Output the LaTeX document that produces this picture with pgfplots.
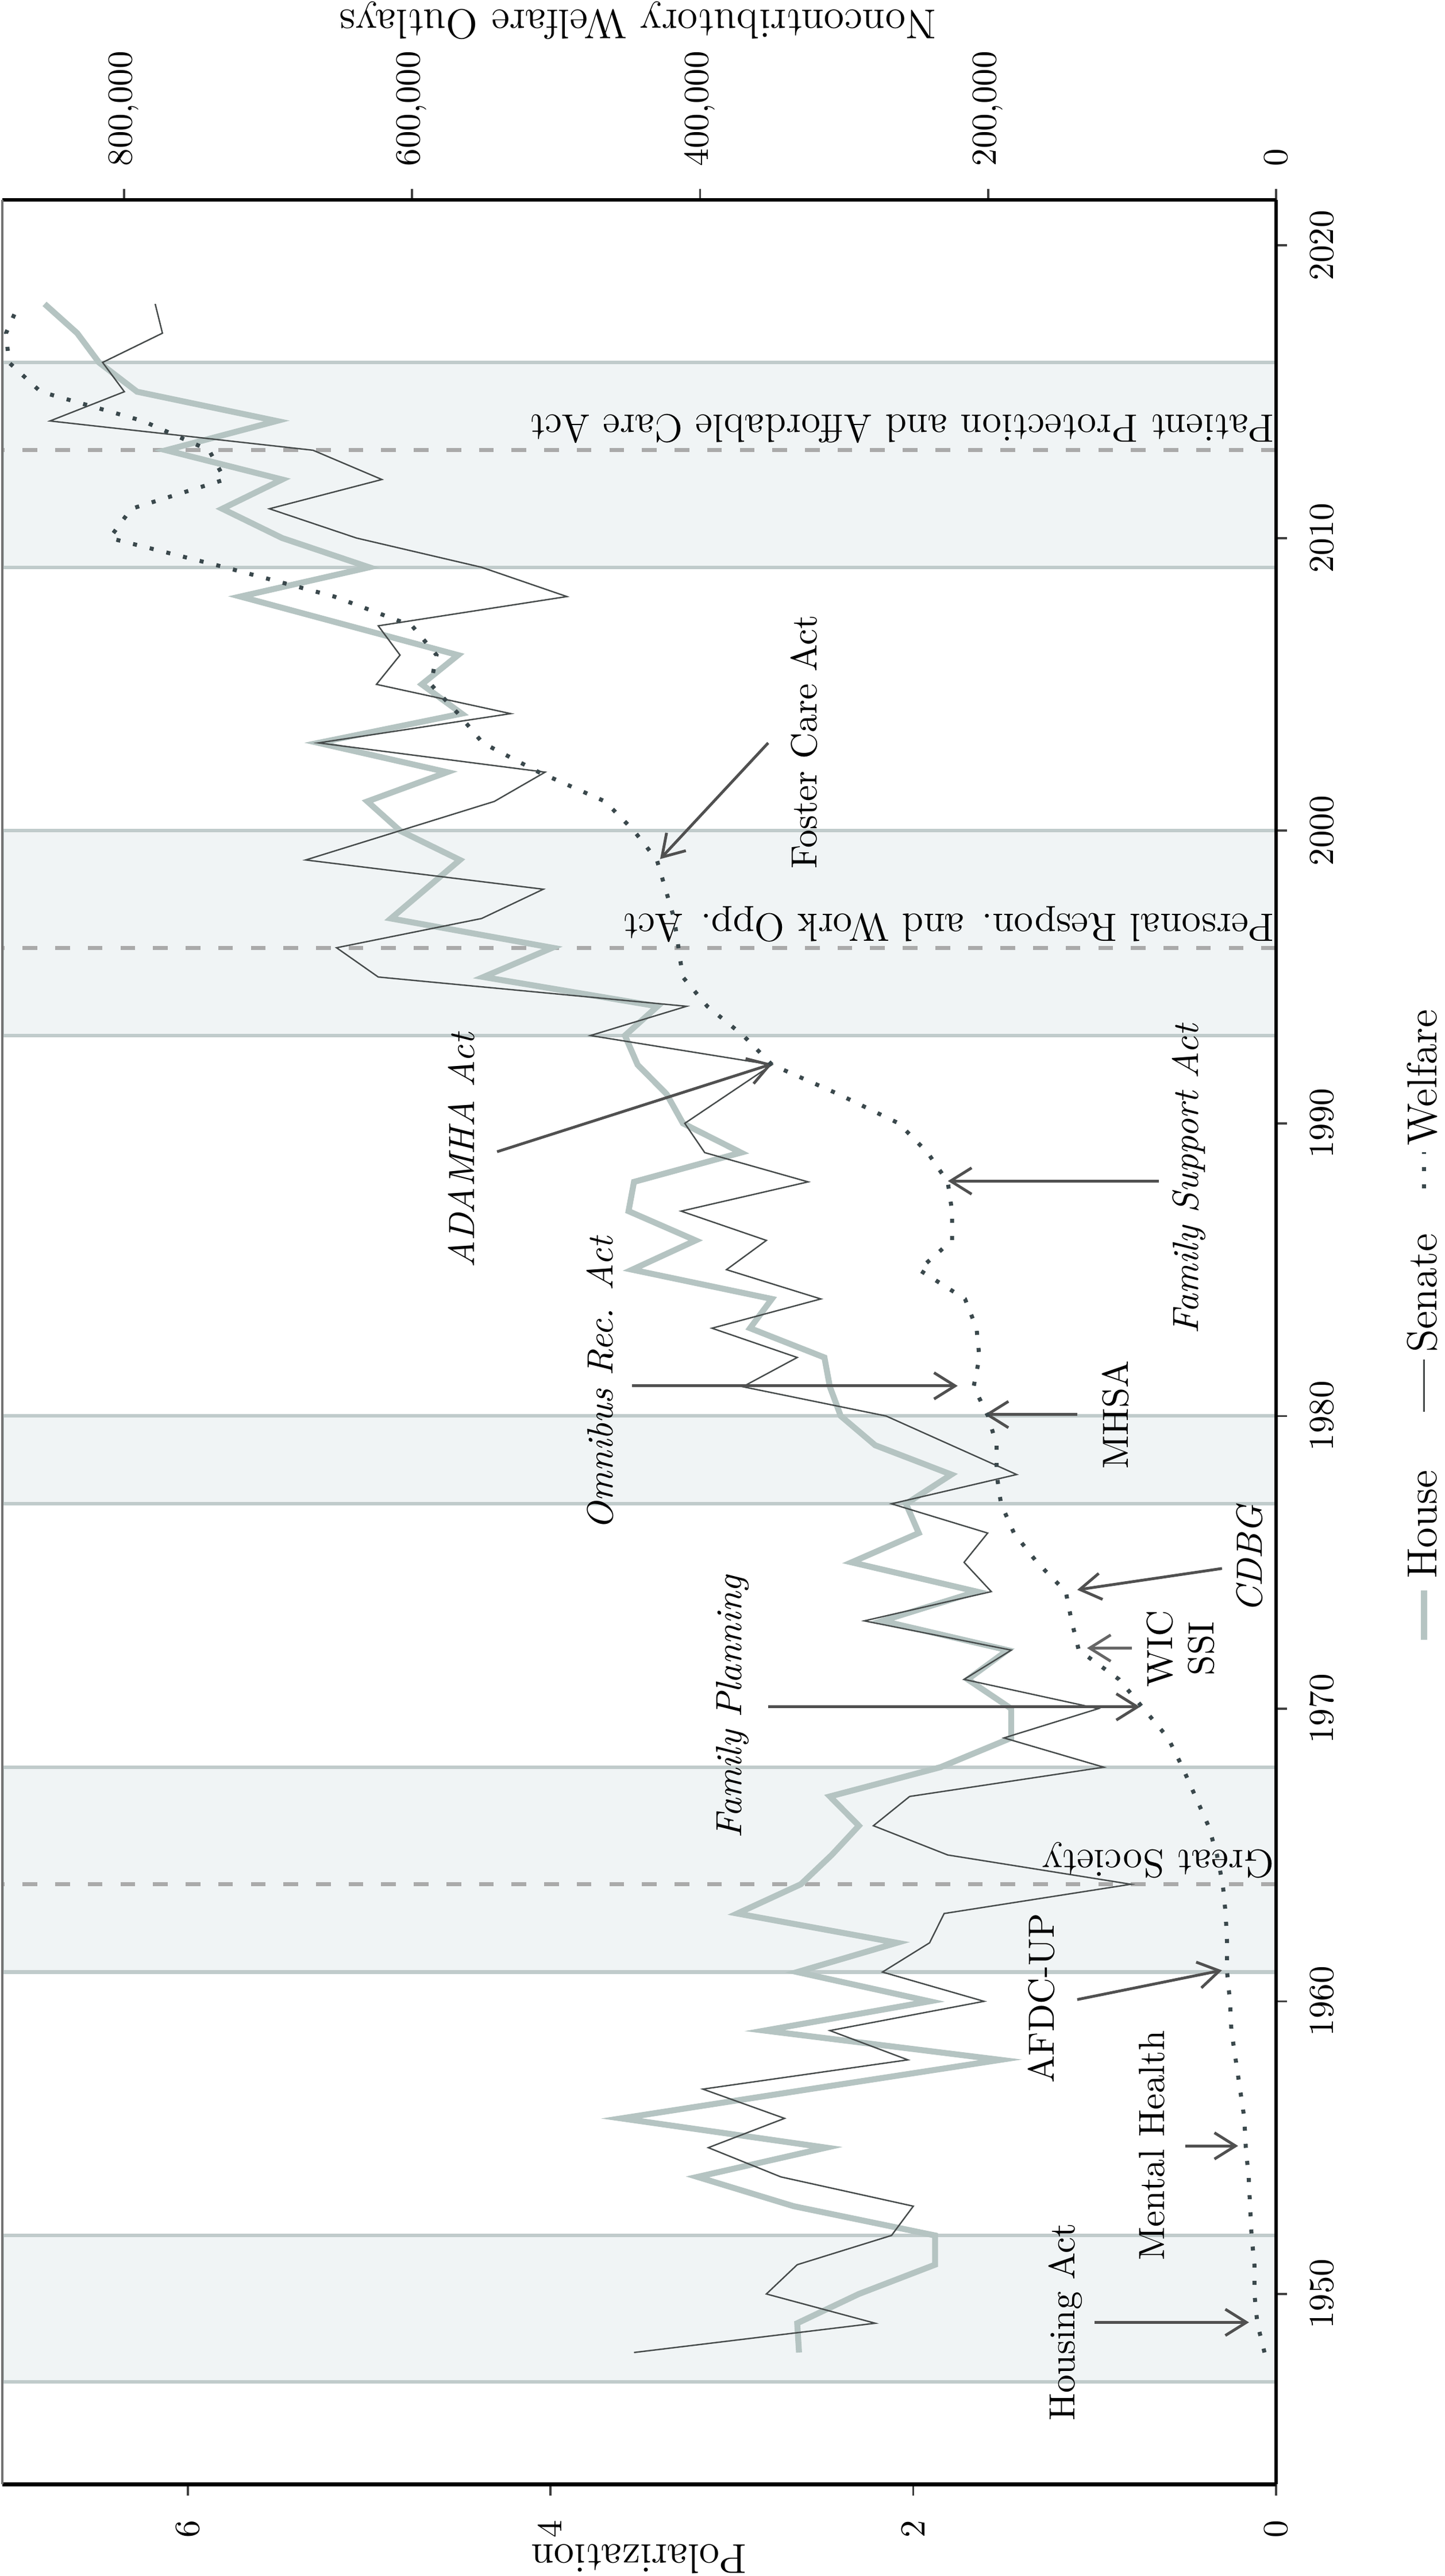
\documentclass[border=0pt]{standalone}
\usepackage{fontspec}
\usepackage{pgfplots}
\usepackage{pgfplotstable}
\pgfplotsset{compat=1.18}
\usetikzlibrary{arrows.meta}
\definecolor{bandfill}{RGB}{240,244,245}
\definecolor{bandedge}{RGB}{192,203,203}
\definecolor{dashc}{RGB}{170,170,170}
\definecolor{housec}{RGB}{181,196,194}
\definecolor{senatec}{RGB}{70,75,75}
\definecolor{welfc}{RGB}{58,72,76}
\definecolor{arrc}{RGB}{80,80,80}
\newcommand{\annf}{\fontsize{10.4}{11.8}\selectfont}
\newcommand{\annv}{\fontsize{11.3}{13.5}\selectfont}
\newcommand{\tickf}{\fontsize{10}{12}\selectfont}
\newcommand{\legf}{\fontsize{12}{14}\selectfont}

\pgfplotstableread{
year house senate
1948 2.63 3.54
1949 2.64 2.21
1950 2.30 2.81
1951 1.88 2.64
1952 1.88 2.12
1953 2.66 2.00
1954 3.19 2.73
1955 2.48 3.13
1956 3.61 2.71
1957 2.57 3.16
1958 1.52 2.03
1959 2.82 2.46
1960 1.91 1.61
1961 2.64 2.17
1962 2.09 1.91
1963 2.97 1.83
1964 2.62 0.80
1965 2.45 1.81
1966 2.30 2.22
1967 2.46 2.02
1968 1.85 0.95
1969 1.46 1.50
1970 1.46 0.98
1971 1.70 1.72
1972 1.48 1.46
1973 2.17 2.27
1974 1.65 1.57
1975 2.34 1.72
1976 1.97 1.59
1977 2.04 2.12
1978 1.79 1.43
1979 2.21 1.79
1980 2.40 2.15
1981 2.46 2.94
1982 2.49 2.64
1983 2.90 3.11
1984 2.78 2.51
1985 3.55 3.03
1986 3.20 2.81
1987 3.57 3.28
1988 3.54 2.58
1989 2.95 3.15
1990 3.27 3.26
1991 3.36 3.02
1992 3.52 2.78
1993 3.59 3.78
1994 3.41 3.25
1995 4.37 4.95
1996 3.99 5.18
1997 4.88 4.38
1998 4.69 4.04
1999 4.50 5.35
2000 4.83 4.83
2001 5.01 4.31
2002 4.57 4.03
2003 5.28 5.28
2004 4.49 4.22
2005 4.71 4.96
2006 4.51 4.83
2007 5.11 4.95
2008 5.71 3.91
2009 5.00 4.38
2010 5.48 5.07
2011 5.81 5.55
2012 5.48 4.93
2013 6.12 5.31
2014 5.51 6.76
2015 6.28 6.35
2016 6.49 6.47
2017 6.61 6.14
2018 6.79 6.18
}\polar

\pgfplotstableread{
year welfare
1948 8000
1949 13000
1950 15000
1951 15000
1952 17000
1953 18000
1954 19000
1955 21000
1956 22000
1957 25000
1958 28000
1959 31000
1960 32000
1961 34000
1962 34000
1963 35000
1964 37000
1965 41000
1966 47000
1967 56000
1968 65000
1969 75000
1970 92000
1971 109000
1972 137000
1973 142000
1974 146000
1975 166000
1976 182000
1977 191000
1978 194000
1979 194000
1980 200000
1981 210000
1982 206000
1983 208000
1984 216000
1985 248000
1986 225000
1987 225000
1988 228000
1989 242000
1990 262000
1991 304000
1992 350000
1993 370000
1994 395000
1995 412000
1996 415000
1997 418000
1998 424000
1999 430000
2000 446000
2001 466000
2002 512000
2003 551000
2004 568000
2005 587000
2006 583000
2007 600000
2008 654000
2009 730000
2010 810000
2011 795000
2012 730000
2013 741000
2014 787000
2015 858000
2016 880000
2017 882000
2018 873000
}\welf

\begin{document}
\begin{tikzpicture}
\begin{axis}[
  at={(0pt,0pt)}, anchor=south west,
  scale only axis, width=363.4pt, height=651.9pt,
  x dir=reverse, xmin=0, xmax=7.023, ymin=1943.5, ymax=2021.55,
  axis x line*=bottom, axis y line*=right,
  x axis line style={line width=1.2pt,-},
  y axis line style={line width=0.9pt,-},
  axis on top,
  clip mode=individual,
  xtick={0,2,4,6}, ytick={1950,1960,...,2020},
  tick align=outside, major tick length=3.2pt,
  tick style={line width=0.6pt, color=black!75},
  xticklabel style={rotate=90, anchor=east, inner sep=0pt, font=\tickf},
  yticklabel style={rotate=90, anchor=north, inner sep=0pt, font=\tickf, /pgf/number format/1000 sep={}},
  xticklabel shift=6.9pt, yticklabel shift=6.4pt,
]
% shaded periods
\addplot[fill=bandfill, draw=bandedge, line width=1pt] coordinates {(0,1947) (7.023,1947) (7.023,1952) (0,1952)} -- cycle;
\addplot[fill=bandfill, draw=bandedge, line width=1pt] coordinates {(0,1961) (7.023,1961) (7.023,1968) (0,1968)} -- cycle;
\addplot[fill=bandfill, draw=bandedge, line width=1pt] coordinates {(0,1977) (7.023,1977) (7.023,1980) (0,1980)} -- cycle;
\addplot[fill=bandfill, draw=bandedge, line width=1pt] coordinates {(0,1993) (7.023,1993) (7.023,2000) (0,2000)} -- cycle;
\addplot[fill=bandfill, draw=bandedge, line width=1pt] coordinates {(0,2009) (7.023,2009) (7.023,2016) (0,2016)} -- cycle;
% dashed reference years
\addplot[dashc, line width=1.15pt, dash pattern=on 4.2pt off 5.1pt] coordinates {(0,1964) (7.023,1964)};
\addplot[dashc, line width=1.15pt, dash pattern=on 4.2pt off 5.1pt] coordinates {(0,1996) (7.023,1996)};
\addplot[dashc, line width=1.15pt, dash pattern=on 4.2pt off 5.1pt] coordinates {(0,2013) (7.023,2013)};
% series
\addplot[housec, line width=1.7pt] table[x=house, y=year] {\polar};
\addplot[senatec, line width=0.4pt] table[x=senate, y=year] {\polar};
% vertical labels
\node[rotate=180, anchor=base west, inner sep=0pt, font=\annv] at (axis cs:0.006,1965.17) {Great Society};
\node[rotate=180, anchor=base west, inner sep=0pt, font=\annv] at (axis cs:0.006,1997.15) {Personal Respon. and Work Opp. Act};
\node[rotate=180, anchor=base west, inner sep=0pt, font=\annv] at (axis cs:0.006,2014.2) {Patient Protection and Affordable Care Act};
% annotations
\tikzset{arr/.style={arrc, line width=0.8pt, -{Straight Barb[length=6pt, width=7.5pt]}}}
\node[rotate=90, anchor=base, inner sep=0pt, font=\annf] at (axis cs:1.109,1949.05) {Housing Act};
\draw[arr] (axis cs:1.00,1949.03) -- (axis cs:0.149,1949.03);
\node[rotate=90, anchor=base, inner sep=0pt, font=\annf] at (axis cs:0.615,1955.07) {Mental Health};
\draw[arr] (axis cs:0.50,1955.06) -- (axis cs:0.209,1955.06);
\node[rotate=90, anchor=base, inner sep=0pt, font=\annf] at (axis cs:1.223,1960.1) {AFDC-UP};
\draw[arr] (axis cs:1.096,1960.06) -- (axis cs:0.298,1961.06);
\node[rotate=90, anchor=base, inner sep=0pt, font=\annf\itshape] at (axis cs:2.949,1970.06) {Family Planning};
\draw[arr] (axis cs:2.80,1970.06) -- (axis cs:0.75,1970.06);
\node[rotate=90, anchor=center, inner sep=0pt, align=center, font=\annf] at (axis cs:0.525,1972.05) {WIC\\SSI};
\draw[arr, color=black!60] (axis cs:0.795,1972.07) -- (axis cs:1.042,1972.07);
\node[rotate=90, anchor=base, inner sep=0pt, font=\annf\itshape] at (axis cs:0.076,1975.12) {CDBG};
\draw[arr] (axis cs:0.298,1974.79) -- (axis cs:1.096,1974.06);
\node[rotate=90, anchor=base, inner sep=0pt, font=\annf] at (axis cs:0.817,1980.04) {MHSA};
\draw[arr] (axis cs:1.096,1980.05) -- (axis cs:1.606,1980.05);
\node[rotate=90, anchor=base, inner sep=0pt, font=\annf\itshape] at (axis cs:3.656,1981.12) {Omnibus Rec. Act};
\draw[arr] (axis cs:3.551,1981.03) -- (axis cs:1.755,1981.03);
\node[rotate=90, anchor=base, inner sep=0pt, font=\annf\itshape] at (axis cs:0.428,1988.09) {Family Support Act};
\draw[arr] (axis cs:0.646,1988.03) -- (axis cs:1.809,1988.03);
\node[rotate=90, anchor=base, inner sep=0pt, font=\annf\itshape] at (axis cs:4.422,1989.07) {ADAMHA Act};
\draw[arr] (axis cs:4.295,1989.03) -- (axis cs:2.778,1992.03);
\node[rotate=90, anchor=base, inner sep=0pt, font=\annf] at (axis cs:2.531,2003.03) {Foster Care Act};
\draw[arr] (axis cs:2.80,2003.0) -- (axis cs:3.396,1999.03);
\end{axis}
\begin{axis}[
  at={(0pt,0pt)}, anchor=south west,
  scale only axis, width=363.4pt, height=651.9pt,
  x dir=reverse, xmin=0, xmax=884589, ymin=1943.5, ymax=2021.55,
  axis x line*=top, axis y line*=left,
  x axis line style={line width=1.0pt,-},
  y axis line style={line width=0.5pt, color=black!55, -},
  axis on top,
  ytick=\empty,
  xtick={0,200000,400000,600000,800000},
  scaled x ticks=false,
  tick align=outside, major tick length=3.2pt,
  tick style={line width=0.6pt, color=black!75},
  xticklabel style={rotate=90, anchor=west, inner sep=0pt, font=\tickf, /pgf/number format/fixed, /pgf/number format/1000 sep={\mbox{,}}},
  xticklabel shift=6.3pt,
]
\addplot[welfc, line width=1.15pt, dash pattern=on 1.15pt off 3.75pt] table[x=welfare, y=year] {\welf};
\end{axis}
% axis titles
\node[rotate=180, anchor=base, inner sep=0pt, font=\fontsize{11.9}{14}\selectfont] at (181.6pt,-17.2pt) {Polarization};
\node[rotate=180, anchor=base, inner sep=0pt, font=\fontsize{11.9}{14}\selectfont] at (181.3pt,706.1pt) {Noncontributory Welfare Outlays};
% legend
\draw[housec, line width=1.7pt] (405.6pt,241.0pt) -- (405.6pt,255.1pt);
\node[rotate=90, anchor=base west, inner sep=0pt, font=\legf] at (409.2pt,258.2pt) {House};
\draw[senatec, line width=0.4pt] (405.6pt,306.1pt) -- (405.6pt,321.0pt);
\node[rotate=90, anchor=base west, inner sep=0pt, font=\legf] at (409.2pt,322.8pt) {Senate};
\draw[welfc, line width=1.15pt, dash pattern=on 1.15pt off 3.75pt] (405.6pt,369.8pt) -- (405.6pt,380.1pt);
\node[rotate=90, anchor=base west, inner sep=0pt, font=\legf] at (409.2pt,381.8pt) {Welfare};
\pgfresetboundingbox
\useasboundingbox (-0.66pt,-26.2pt) rectangle (411.5pt,709pt);
\end{tikzpicture}
\end{document}
